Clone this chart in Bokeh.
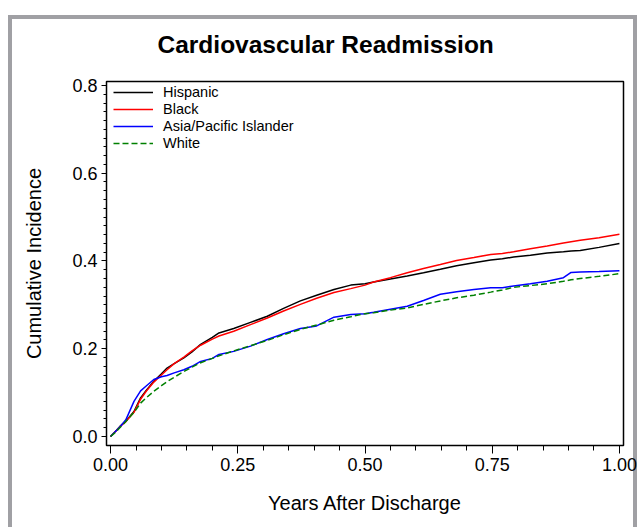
from bokeh.plotting import figure
from bokeh.models import FixedTicker, PrintfTickFormatter, Range1d, Legend, LegendItem
from bokeh.embed import file_html
from bokeh.resources import INLINE

years = [0.0, 0.01, 0.02, 0.03, 0.046, 0.059, 0.07, 0.085, 0.1, 0.111, 0.125, 0.144,
         0.16, 0.177, 0.2, 0.213, 0.242, 0.275, 0.308, 0.34, 0.373, 0.405, 0.439,
         0.472, 0.5, 0.517, 0.55, 0.583, 0.615, 0.648, 0.68, 0.714, 0.747, 0.77,
         0.792, 0.825, 0.858, 0.89, 0.905, 0.923, 0.96, 1.0]

hispanic = [0.0, 0.012, 0.025, 0.035, 0.057, 0.088, 0.105, 0.126, 0.143, 0.156, 0.166, 0.179,
            0.193, 0.21, 0.226, 0.236, 0.246, 0.26, 0.274, 0.292, 0.309, 0.322, 0.335,
            0.345, 0.348, 0.352, 0.359, 0.366, 0.373, 0.381, 0.389, 0.396, 0.402, 0.405,
            0.409, 0.413, 0.418, 0.421, 0.423, 0.424, 0.431, 0.44]

black = [0.0, 0.012, 0.024, 0.034, 0.055, 0.085, 0.103, 0.124, 0.14, 0.152, 0.166, 0.181,
         0.195, 0.208, 0.222, 0.229, 0.24, 0.255, 0.27, 0.286, 0.301, 0.315, 0.328,
         0.337, 0.345, 0.352, 0.362, 0.373, 0.383, 0.392, 0.401, 0.408, 0.415, 0.417,
         0.421, 0.428, 0.434, 0.441, 0.444, 0.447, 0.453, 0.461]

asian = [0.0, 0.012, 0.024, 0.038, 0.08, 0.104, 0.115, 0.13, 0.136, 0.139, 0.145, 0.152,
         0.16, 0.171, 0.178, 0.187, 0.194, 0.206, 0.221, 0.234, 0.246, 0.252, 0.272,
         0.278, 0.28, 0.283, 0.29, 0.297, 0.31, 0.324, 0.33, 0.335, 0.339, 0.339,
         0.343, 0.348, 0.354, 0.362, 0.374, 0.375, 0.376, 0.378]

white = [0.0, 0.01, 0.022, 0.034, 0.055, 0.076, 0.088, 0.103, 0.116, 0.125, 0.135, 0.148,
         0.158, 0.168, 0.178, 0.184, 0.195, 0.207, 0.219, 0.232, 0.244, 0.254, 0.265,
         0.273, 0.28, 0.282, 0.288, 0.293, 0.301, 0.309, 0.316, 0.322, 0.329, 0.334,
         0.34, 0.344, 0.348, 0.354, 0.357, 0.36, 0.365, 0.371]

x_ticks = [0.0, 0.25, 0.5, 0.75, 1.0]
x_minor = [0.05, 0.1, 0.15, 0.2, 0.3, 0.35, 0.4, 0.45, 0.55, 0.6, 0.65, 0.7, 0.8, 0.85, 0.9, 0.95]
y_ticks = [0.0, 0.2, 0.4, 0.6, 0.8]
y_minor = [round(i * 0.02, 2) for i in range(41) if i % 10 != 0]

FONT = "Liberation Sans"
GREY = "linear-gradient(#a0a0a4, #a0a0a4)"

p = figure(width=629, height=527, output_backend="svg", toolbar_location=None,
           x_range=Range1d(-0.008, 1.008), y_range=Range1d(-0.0205, 0.809),
           min_border_left=98, min_border_right=14, min_border_top=81, min_border_bottom=82)
# grey page frame painted behind the transparent canvas border area
p.styles = {"margin-left": "8px",
            "background": (f"{GREY} 0px 15px / 4px 100% no-repeat, "
                           f"{GREY} 0px 15px / 100% 4px no-repeat, "
                           f"{GREY} 625px 15px / 4px 100% no-repeat, white")}

p.background_fill_color = "white"
p.border_fill_alpha = 0
p.outline_line_color = "black"
p.outline_line_width = 1.5
p.grid.visible = False

p.title.text = "Cardiovascular Readmission"
p.title.align = "left"
p.title.offset = 51
p.title.standoff = 48
p.title.text_font = FONT
p.title.text_font_size = "24.5px"
p.title.text_font_style = "bold"
p.title.text_color = "black"

r1 = p.line(years, hispanic, line_color="black", line_width=1.5)
r2 = p.line(years, black, line_color="#ff0000", line_width=1.5)
r3 = p.line(years, asian, line_color="#0000ff", line_width=1.5)
r4 = p.line(years, white, line_color="#008000", line_width=1.5, line_dash="6 3")

legend = Legend(items=[LegendItem(label="Hispanic", renderers=[r1]),
                       LegendItem(label="Black", renderers=[r2]),
                       LegendItem(label="Asia/Pacific Islander", renderers=[r3]),
                       LegendItem(label="White", renderers=[r4])],
                location=(7, 294), padding=0, margin=0, spacing=1,
                glyph_width=40, glyph_height=16, label_height=16, label_standoff=10,
                label_text_font=FONT, label_text_font_size="14.5px",
                label_text_color="black",
                border_line_color=None, background_fill_alpha=0)
p.add_layout(legend)

p.xaxis.ticker = FixedTicker(ticks=x_ticks, minor_ticks=x_minor)
p.xaxis.formatter = PrintfTickFormatter(format="%.2f")
p.yaxis.ticker = FixedTicker(ticks=y_ticks, minor_ticks=y_minor)
p.yaxis.formatter = PrintfTickFormatter(format="%.1f")

for ax in (p.xaxis[0], p.yaxis[0]):
    ax.axis_line_color = "black"
    ax.major_tick_line_color = "black"
    ax.minor_tick_line_color = "black"
    ax.major_tick_in = 0
    ax.minor_tick_in = 0
    ax.major_label_text_font = FONT
    ax.major_label_text_font_size = "18px"
    ax.major_label_text_color = "black"
    ax.axis_label_text_font = FONT
    ax.axis_label_text_font_size = "20px"
    ax.axis_label_text_font_style = "normal"
    ax.axis_label_text_color = "black"

p.xaxis.axis_label = "Years After Discharge"
p.xaxis.major_tick_out = 8
p.xaxis.minor_tick_out = 5
p.xaxis.major_label_standoff = 4
p.xaxis.axis_label_standoff = 18

p.yaxis.axis_label = "Cumulative Incidence"
p.yaxis.major_tick_out = 5
p.yaxis.minor_tick_out = 3
p.yaxis.major_label_standoff = 4
p.yaxis.axis_label_standoff = 24

open("out.html", "w").write(file_html(p, INLINE))
